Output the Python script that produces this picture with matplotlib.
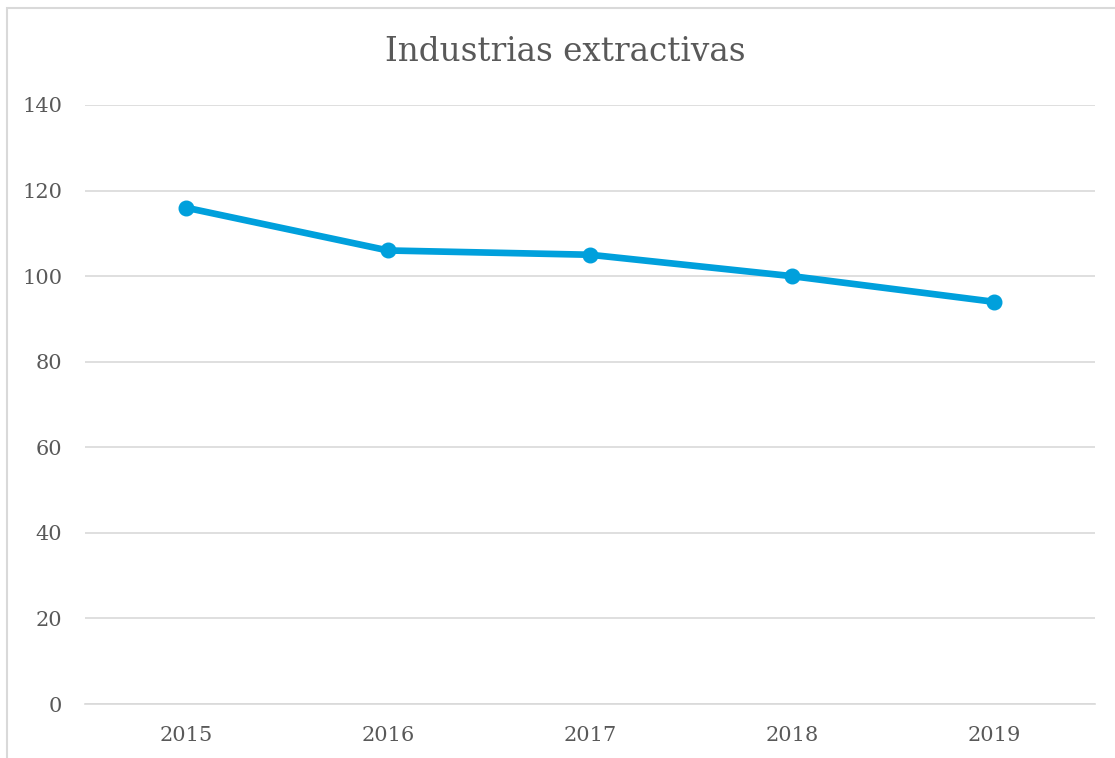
import matplotlib
matplotlib.use("Agg")
import matplotlib.pyplot as plt
from matplotlib.patches import Rectangle

years = ["2015", "2016", "2017", "2018", "2019"]
values = [116, 106, 105, 100, 94]
yticks = [0, 20, 40, 60, 80, 100, 120, 140]

W, H = 1115, 758
fig = plt.figure(figsize=(W / 100, H / 100), dpi=100)
fig.patch.set_facecolor("white")

# outer chart border (partially cropped)
fig.patches.append(Rectangle((7 / W, -0.1), 1.2, 1 - 8 / H + 0.1, transform=fig.transFigure,
                             fill=False, edgecolor="#d9d9d9", linewidth=1.5))

ax = fig.add_axes([85 / W, 1 - 704 / H, (1095 - 85) / W, (704 - 105) / H])
x = list(range(len(years)))
ax.plot(x, values, color="#00A0DC", linewidth=4.8, marker="o", markersize=10.5,
        solid_capstyle="round", zorder=3)
ax.set_xlim(-0.5, len(years) - 0.5)
ax.set_ylim(0, 140)
ax.set_yticks(yticks)
ax.set_xticks(x)
ax.set_xticklabels(years)
ax.grid(axis="y", color="#d9d9d9", linewidth=1.2)
ax.set_axisbelow(True)
for s in ["top", "right", "left"]:
    ax.spines[s].set_visible(False)
ax.spines["bottom"].set_color("#d9d9d9")
ax.spines["bottom"].set_linewidth(1.2)
ax.tick_params(axis="both", length=0, labelsize=15, labelcolor="#595959")
ax.tick_params(axis="x", pad=16)
ax.tick_params(axis="y", pad=16.5)
for lab in ax.get_xticklabels() + ax.get_yticklabels():
    lab.set_family("DejaVu Serif")

fig.text(565 / W, 1 - 52 / H, "Industrias extractivas", ha="center", va="center",
         fontsize=23.5, color="#595959", family="DejaVu Serif")

fig.savefig("out.png", dpi=100)
